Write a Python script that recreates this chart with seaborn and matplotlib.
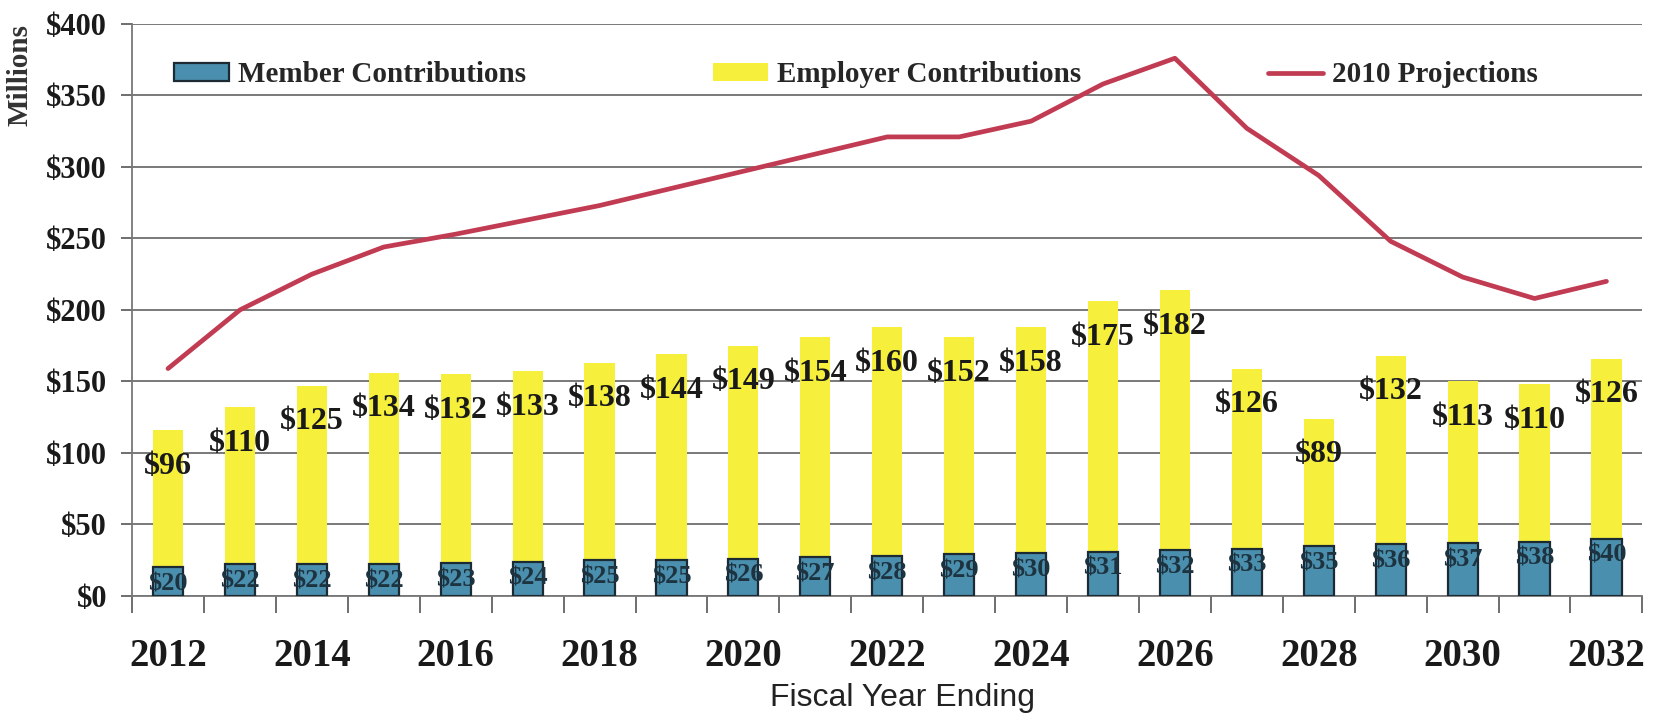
import numpy as np
import matplotlib
matplotlib.use("Agg")
import matplotlib.pyplot as plt
from matplotlib.patches import Patch
from matplotlib.lines import Line2D
from matplotlib.ticker import MultipleLocator, FixedLocator
import pandas as pd
import seaborn as sns

# ### Data (millions of dollars)
years = [2012, 2013, 2014, 2015, 2016, 2017, 2018, 2019, 2020, 2021, 2022,
         2023, 2024, 2025, 2026, 2027, 2028, 2029, 2030, 2031, 2032]
member = [20, 22, 22, 22, 23, 24, 25, 25, 26, 27, 28,
          29, 30, 31, 32, 33, 35, 36, 37, 38, 40]
employer = [96, 110, 125, 134, 132, 133, 138, 144, 149, 154, 160,
            152, 158, 175, 182, 126, 89, 132, 113, 110, 126]
projections_2010 = [159, 200, 225, 244, 253, 263, 273, 285, 297, 309, 321,
                    321, 332, 358, 376, 327, 294, 248, 223, 208, 220]

df = pd.DataFrame({"year": [str(y) for y in years],
                   "member": member,
                   "employer": employer,
                   "proj": projections_2010})
df["total"] = df.member + df.employer

sns.set_style("white")
plt.rcParams["font.family"] = ["Liberation Serif", "DejaVu Serif"]

blue = "#4b8fae"
yellow = "#f6f03c"
red = "#c13c52"

fig = plt.figure(figsize=(16.59, 7.25), dpi=100)
ax = fig.add_axes([0.0796, 0.178, 0.9104, 0.789])

# stacked bars: totals (yellow) first, member part drawn on top
sns.barplot(data=df, x="year", y="total", color=yellow, width=0.42,
            saturation=1, linewidth=0, ax=ax, zorder=2)
sns.barplot(data=df, x="year", y="member", color=blue, width=0.42,
            saturation=1, edgecolor="#1c2a33", linewidth=1.6, ax=ax, zorder=3)

# 2010 projection line
sns.lineplot(x=np.arange(len(years)), y=df.proj, color=red, lw=3.4, ax=ax,
             zorder=4)

# value labels
for i, row in df.iterrows():
    ax.annotate("$%d" % row.employer, xy=(i, row.total), xytext=(0, -26),
                textcoords="offset points", ha="center", va="center",
                fontsize=23, fontweight="bold", color="#1a1a1a", zorder=5)
    ax.annotate("$%d" % row.member, xy=(i, row.member), xytext=(0, -12),
                textcoords="offset points", ha="center", va="center",
                fontsize=19, fontweight="bold", color="#1d3340", zorder=5)

ax.set_xlim(-0.5, len(years) - 0.5)
ax.set_ylim(0, 400)
ax.yaxis.set_major_locator(MultipleLocator(50))
ax.set_yticklabels(["$%d" % v for v in ax.get_yticks()])
ax.yaxis.grid(True, color="#6e6e6e", lw=1.3)
ax.set_axisbelow(True)

# year labels every other year, tick marks between bars
ax.xaxis.set_major_locator(FixedLocator(np.arange(0, len(years), 2)))
ax.set_xticklabels([str(y) for y in years[::2]])
ax.xaxis.set_minor_locator(FixedLocator(np.arange(len(years) + 1) - 0.5))
ax.tick_params(axis="x", which="major", length=0, pad=30, labelsize=28)
ax.tick_params(axis="x", which="minor", length=12, width=1.2, color="#555555",
               direction="out", bottom=True)
ax.tick_params(axis="y", length=8, width=1.2, color="#555555", pad=10,
               labelsize=22, left=True)
for lab in ax.get_xticklabels() + ax.get_yticklabels():
    lab.set_fontweight("bold")
    lab.set_color("#1a1a1a")

sns.despine(ax=ax)
for s in ["left", "bottom"]:
    ax.spines[s].set_color("#777777")
    ax.spines[s].set_linewidth(1.3)

ax.set_ylabel("")
ax.set_xlabel("Fiscal Year Ending", fontsize=23, family="Liberation Sans",
              color="#222222", labelpad=6, x=0.51)
fig.text(20 / 1659, 1 - 75 / 725, "Millions", rotation=90, ha="center",
         va="center", fontsize=21, fontweight="bold", color="#333333")

handles = [Patch(facecolor=blue, edgecolor="#1c2a33", linewidth=1.6),
           Patch(facecolor=yellow, edgecolor="none"),
           Line2D([0], [0], color=red, lw=3.4)]
ax.legend(handles, ["Member Contributions", "Employer Contributions",
                    "2010 Projections"],
          ncol=3, loc="center left", bbox_to_anchor=(0.020, 0.911),
          frameon=False, prop={"size": 21, "weight": "bold"},
          handlelength=1.9, handleheight=0.6, handletextpad=0.3,
          columnspacing=6.4, borderaxespad=0)

fig.savefig("out.png", dpi=100, facecolor="white")
